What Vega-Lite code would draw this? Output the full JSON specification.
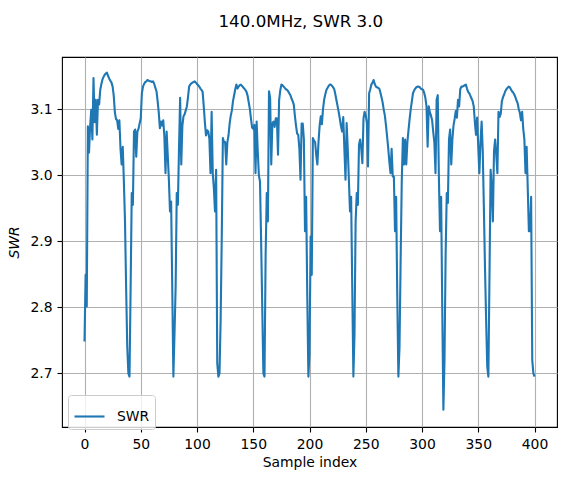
{
  "$schema": "https://vega.github.io/schema/vega-lite/v6.json",
  "width": 495,
  "height": 370,
  "autosize": "none",
  "padding": {"left": 62, "top": 57, "right": 10, "bottom": 53},
  "title": {
    "text": "140.0MHz, SWR 3.0",
    "anchor": "middle",
    "baseline": "alphabetic",
    "offset": 13,
    "dx": -8.7,
    "fontSize": 16.7,
    "fontWeight": "normal",
    "color": "black",
    "font": "DejaVu Sans"
  },
  "config": {
    "font": "DejaVu Sans",
    "view": {"stroke": "black", "strokeWidth": 1.1},
    "axis": {
      "domain": false,
      "grid": true,
      "gridColor": "#b0b0b0",
      "gridWidth": 1.1,
      "tickColor": "black",
      "tickSize": 5,
      "tickWidth": 1.1,
      "labelColor": "black",
      "labelFontSize": 13.9,
      "labelPadding": 5,
      "titleColor": "black",
      "titleFontSize": 13.9,
      "titleFontWeight": "normal"
    }
  },
  "data": {"values": [
    {"i":0,"v":2.748},{"i":1,"v":2.849},{"i":2,"v":2.801},{"i":3,"v":3.074},{"i":4,"v":3.034},
    {"i":5,"v":3.074},{"i":6,"v":3.099},{"i":7,"v":3.054},{"i":8,"v":3.147},{"i":9,"v":3.080},
    {"i":10,"v":3.114},{"i":11,"v":3.061},{"i":12,"v":3.114},{"i":13,"v":3.107},{"i":14,"v":3.129},
    {"i":15,"v":3.138},{"i":16,"v":3.145},{"i":17,"v":3.149},{"i":18,"v":3.152},{"i":19,"v":3.154},
    {"i":20,"v":3.155},{"i":21,"v":3.150},{"i":22,"v":3.146},{"i":23,"v":3.143},{"i":24,"v":3.140},
    {"i":25,"v":3.134},{"i":26,"v":3.120},{"i":27,"v":3.095},{"i":28,"v":3.085},{"i":29,"v":3.083},
    {"i":30,"v":3.070},{"i":31,"v":3.083},{"i":32,"v":3.040},{"i":33,"v":3.016},{"i":34,"v":3.043},
    {"i":35,"v":2.990},{"i":36,"v":2.930},{"i":37,"v":2.830},{"i":38,"v":2.740},{"i":39,"v":2.700},
    {"i":40,"v":2.695},{"i":41,"v":2.830},{"i":42,"v":2.973},{"i":43,"v":2.955},{"i":44,"v":3.066},
    {"i":45,"v":3.069},{"i":46,"v":3.028},{"i":47,"v":3.066},{"i":48,"v":3.070},{"i":49,"v":3.078},
    {"i":50,"v":3.086},{"i":51,"v":3.124},{"i":52,"v":3.134},{"i":53,"v":3.138},{"i":54,"v":3.141},
    {"i":55,"v":3.142},{"i":56,"v":3.144},{"i":57,"v":3.143},{"i":58,"v":3.142},{"i":59,"v":3.142},
    {"i":60,"v":3.141},{"i":61,"v":3.142},{"i":62,"v":3.138},{"i":63,"v":3.132},{"i":64,"v":3.127},
    {"i":65,"v":3.112},{"i":66,"v":3.095},{"i":67,"v":3.071},{"i":68,"v":3.081},{"i":69,"v":3.075},
    {"i":70,"v":3.083},{"i":71,"v":3.058},{"i":72,"v":3.003},{"i":73,"v":3.066},{"i":74,"v":3.030},
    {"i":75,"v":2.993},{"i":76,"v":2.945},{"i":77,"v":2.960},{"i":78,"v":2.830},{"i":79,"v":2.695},
    {"i":80,"v":2.760},{"i":81,"v":2.830},{"i":82,"v":2.973},{"i":83,"v":2.955},{"i":84,"v":3.040},
    {"i":85,"v":3.117},{"i":86,"v":3.016},{"i":87,"v":3.075},{"i":88,"v":3.089},{"i":89,"v":3.092},
    {"i":90,"v":3.098},{"i":91,"v":3.104},{"i":92,"v":3.118},{"i":93,"v":3.134},{"i":94,"v":3.137},
    {"i":95,"v":3.139},{"i":96,"v":3.140},{"i":97,"v":3.141},{"i":98,"v":3.142},{"i":99,"v":3.140},
    {"i":100,"v":3.138},{"i":101,"v":3.136},{"i":102,"v":3.134},{"i":103,"v":3.131},{"i":104,"v":3.129},
    {"i":105,"v":3.126},{"i":106,"v":3.104},{"i":107,"v":3.080},{"i":108,"v":3.060},{"i":109,"v":3.068},
    {"i":110,"v":3.066},{"i":111,"v":3.055},{"i":112,"v":3.003},{"i":113,"v":3.096},{"i":114,"v":3.003},
    {"i":115,"v":2.980},{"i":116,"v":2.945},{"i":117,"v":3.008},{"i":118,"v":2.715},{"i":119,"v":2.695},
    {"i":120,"v":2.700},{"i":121,"v":2.780},{"i":122,"v":2.905},{"i":123,"v":3.056},{"i":124,"v":3.050},
    {"i":125,"v":3.050},{"i":126,"v":3.016},{"i":127,"v":3.050},{"i":128,"v":3.060},{"i":129,"v":3.078},
    {"i":130,"v":3.090},{"i":131,"v":3.098},{"i":132,"v":3.112},{"i":133,"v":3.121},{"i":134,"v":3.130},
    {"i":135,"v":3.137},{"i":136,"v":3.131},{"i":137,"v":3.134},{"i":138,"v":3.136},{"i":139,"v":3.137},
    {"i":140,"v":3.135},{"i":141,"v":3.133},{"i":142,"v":3.131},{"i":143,"v":3.129},{"i":144,"v":3.126},
    {"i":145,"v":3.120},{"i":146,"v":3.110},{"i":147,"v":3.100},{"i":148,"v":3.085},{"i":149,"v":3.072},
    {"i":150,"v":3.070},{"i":151,"v":3.076},{"i":152,"v":3.003},{"i":153,"v":3.081},{"i":154,"v":3.036},
    {"i":155,"v":3.000},{"i":156,"v":2.990},{"i":157,"v":2.900},{"i":158,"v":2.800},{"i":159,"v":2.700},
    {"i":160,"v":2.695},{"i":161,"v":2.880},{"i":162,"v":2.973},{"i":163,"v":2.930},{"i":164,"v":3.127},
    {"i":165,"v":3.117},{"i":166,"v":3.016},{"i":167,"v":3.078},{"i":168,"v":3.081},{"i":169,"v":3.073},
    {"i":170,"v":3.086},{"i":171,"v":3.086},{"i":172,"v":3.031},{"i":173,"v":3.114},{"i":174,"v":3.128},
    {"i":175,"v":3.137},{"i":176,"v":3.136},{"i":177,"v":3.134},{"i":178,"v":3.132},{"i":179,"v":3.130},
    {"i":180,"v":3.129},{"i":181,"v":3.127},{"i":182,"v":3.124},{"i":183,"v":3.121},{"i":184,"v":3.116},
    {"i":185,"v":3.112},{"i":186,"v":3.107},{"i":187,"v":3.090},{"i":188,"v":3.075},{"i":189,"v":3.063},
    {"i":190,"v":3.061},{"i":191,"v":3.040},{"i":192,"v":2.993},{"i":193,"v":3.078},{"i":194,"v":3.078},
    {"i":195,"v":3.054},{"i":196,"v":2.915},{"i":197,"v":2.967},{"i":198,"v":2.820},{"i":199,"v":2.695},
    {"i":200,"v":2.730},{"i":201,"v":2.907},{"i":202,"v":2.849},{"i":203,"v":3.056},{"i":204,"v":3.052},
    {"i":205,"v":3.050},{"i":206,"v":3.030},{"i":207,"v":3.016},{"i":208,"v":3.050},{"i":209,"v":3.075},
    {"i":210,"v":3.089},{"i":211,"v":3.077},{"i":212,"v":3.100},{"i":213,"v":3.114},{"i":214,"v":3.122},
    {"i":215,"v":3.129},{"i":216,"v":3.132},{"i":217,"v":3.135},{"i":218,"v":3.137},{"i":219,"v":3.137},
    {"i":220,"v":3.135},{"i":221,"v":3.133},{"i":222,"v":3.130},{"i":223,"v":3.122},{"i":224,"v":3.113},
    {"i":225,"v":3.104},{"i":226,"v":3.095},{"i":227,"v":3.085},{"i":228,"v":3.074},{"i":229,"v":3.066},
    {"i":230,"v":3.088},{"i":231,"v":3.040},{"i":232,"v":2.993},{"i":233,"v":3.079},{"i":234,"v":3.040},
    {"i":235,"v":2.993},{"i":236,"v":2.945},{"i":237,"v":2.967},{"i":238,"v":2.830},{"i":239,"v":2.695},
    {"i":240,"v":2.760},{"i":241,"v":2.930},{"i":242,"v":2.973},{"i":243,"v":2.955},{"i":244,"v":3.046},
    {"i":245,"v":3.054},{"i":246,"v":3.040},{"i":247,"v":3.018},{"i":248,"v":3.086},{"i":249,"v":3.096},
    {"i":250,"v":3.090},{"i":251,"v":3.079},{"i":252,"v":3.013},{"i":253,"v":3.124},{"i":254,"v":3.130},
    {"i":255,"v":3.137},{"i":256,"v":3.140},{"i":257,"v":3.144},{"i":258,"v":3.138},{"i":259,"v":3.134},
    {"i":260,"v":3.133},{"i":261,"v":3.132},{"i":262,"v":3.131},{"i":263,"v":3.125},{"i":264,"v":3.118},
    {"i":265,"v":3.110},{"i":266,"v":3.099},{"i":267,"v":3.090},{"i":268,"v":3.075},{"i":269,"v":3.058},
    {"i":270,"v":3.040},{"i":271,"v":3.020},{"i":272,"v":3.003},{"i":273,"v":3.040},{"i":274,"v":2.998},
    {"i":275,"v":2.998},{"i":276,"v":2.915},{"i":277,"v":2.967},{"i":278,"v":2.820},{"i":279,"v":2.695},
    {"i":280,"v":2.740},{"i":281,"v":2.870},{"i":282,"v":2.990},{"i":283,"v":3.056},{"i":284,"v":3.016},
    {"i":285,"v":3.054},{"i":286,"v":3.016},{"i":287,"v":3.050},{"i":288,"v":3.068},{"i":289,"v":3.085},
    {"i":290,"v":3.100},{"i":291,"v":3.112},{"i":292,"v":3.124},{"i":293,"v":3.128},{"i":294,"v":3.131},
    {"i":295,"v":3.133},{"i":296,"v":3.134},{"i":297,"v":3.134},{"i":298,"v":3.133},{"i":299,"v":3.131},
    {"i":300,"v":3.130},{"i":301,"v":3.129},{"i":302,"v":3.124},{"i":303,"v":3.117},{"i":304,"v":3.104},
    {"i":305,"v":3.043},{"i":306,"v":3.104},{"i":307,"v":3.095},{"i":308,"v":3.090},{"i":309,"v":3.083},
    {"i":310,"v":3.065},{"i":311,"v":3.049},{"i":312,"v":3.003},{"i":313,"v":3.114},{"i":314,"v":3.121},
    {"i":315,"v":2.998},{"i":316,"v":2.915},{"i":317,"v":2.967},{"i":318,"v":2.800},{"i":319,"v":2.645},
    {"i":320,"v":2.720},{"i":321,"v":2.880},{"i":322,"v":2.973},{"i":323,"v":2.958},{"i":324,"v":3.054},
    {"i":325,"v":3.069},{"i":326,"v":3.016},{"i":327,"v":3.054},{"i":328,"v":3.075},{"i":329,"v":3.085},
    {"i":330,"v":3.097},{"i":331,"v":3.087},{"i":332,"v":3.114},{"i":333,"v":3.104},{"i":334,"v":3.130},
    {"i":335,"v":3.134},{"i":336,"v":3.134},{"i":337,"v":3.135},{"i":338,"v":3.136},{"i":339,"v":3.137},
    {"i":340,"v":3.131},{"i":341,"v":3.126},{"i":342,"v":3.124},{"i":343,"v":3.120},{"i":344,"v":3.116},
    {"i":345,"v":3.112},{"i":346,"v":3.104},{"i":347,"v":3.080},{"i":348,"v":3.061},{"i":349,"v":3.087},
    {"i":350,"v":3.043},{"i":351,"v":3.003},{"i":352,"v":3.050},{"i":353,"v":3.081},{"i":354,"v":3.036},
    {"i":355,"v":2.950},{"i":356,"v":2.860},{"i":357,"v":2.780},{"i":358,"v":2.710},{"i":359,"v":2.695},
    {"i":360,"v":2.850},{"i":361,"v":3.008},{"i":362,"v":2.983},{"i":363,"v":2.930},{"i":364,"v":3.036},
    {"i":365,"v":3.054},{"i":366,"v":3.030},{"i":367,"v":3.003},{"i":368,"v":3.096},{"i":369,"v":3.088},
    {"i":370,"v":3.093},{"i":371,"v":3.112},{"i":372,"v":3.118},{"i":373,"v":3.122},{"i":374,"v":3.127},
    {"i":375,"v":3.130},{"i":376,"v":3.132},{"i":377,"v":3.134},{"i":378,"v":3.133},{"i":379,"v":3.130},
    {"i":380,"v":3.127},{"i":381,"v":3.125},{"i":382,"v":3.122},{"i":383,"v":3.118},{"i":384,"v":3.113},
    {"i":385,"v":3.109},{"i":386,"v":3.100},{"i":387,"v":3.094},{"i":388,"v":3.083},{"i":389,"v":3.096},
    {"i":390,"v":3.070},{"i":391,"v":3.054},{"i":392,"v":3.003},{"i":393,"v":3.043},{"i":394,"v":2.980},
    {"i":395,"v":2.915},{"i":396,"v":2.915},{"i":397,"v":2.967},{"i":398,"v":2.720},{"i":399,"v":2.700},
    {"i":400,"v":2.695}
  ]},
  "mark": {"type": "line", "strokeWidth": 2.1, "strokeJoin": "round", "clip": true},
  "encoding": {
    "x": {
      "field": "i",
      "type": "quantitative",
      "scale": {"domain": [-20, 420], "nice": false, "zero": false},
      "axis": {"values": [0, 50, 100, 150, 200, 250, 300, 350, 400], "title": "Sample index", "titlePadding": 5}
    },
    "y": {
      "field": "v",
      "type": "quantitative",
      "scale": {"domain": [2.6187, 3.1788], "nice": false, "zero": false},
      "axis": {"values": [2.7, 2.8, 2.9, 3.0, 3.1], "format": ".1f", "title": "SWR", "titleFontStyle": "italic", "titlePadding": 8}
    },
    "color": {
      "datum": "SWR",
      "type": "nominal",
      "scale": {"domain": ["SWR"], "range": ["#1f77b4"]},
      "legend": {
        "orient": "none",
        "legendX": 6,
        "legendY": 338,
        "title": null,
        "symbolType": "stroke",
        "symbolSize": 900,
        "symbolStrokeWidth": 2.1,
        "labelFontSize": 13.9,
        "labelColor": "black",
        "labelOffset": 11,
        "padding": 5,
        "strokeColor": "#cccccc",
        "fillColor": "rgba(255,255,255,0.8)",
        "cornerRadius": 3
      }
    }
  }
}
